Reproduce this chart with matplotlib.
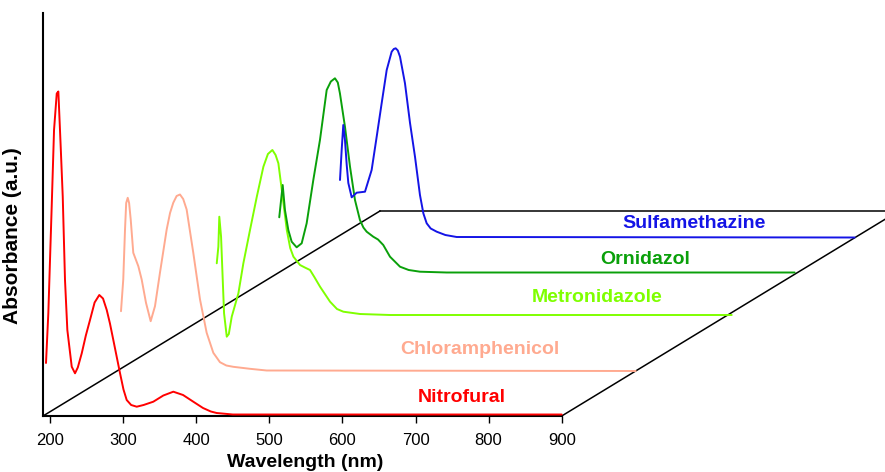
import matplotlib
import matplotlib.pyplot as plt

matplotlib.use("Agg")
plt.rcParams["font.family"] = ["Liberation Sans", "DejaVu Sans"]

# wavelength (nm) and absorbance (a.u.) above each trace's own baseline
NITRO_WL = [194.5, 197.7, 202.3, 205.5, 209.2, 211.4, 214.6, 217.4, 220.5, 223.7, 229.7, 234.2,
            238.0, 243.4, 249.0, 254.7, 261.0, 267.4, 272.5, 277.6, 282.0, 286.6, 295.8, 300.5,
            304.9, 311.0, 318.6, 328.0, 341.3, 355.0, 368.7, 382.0, 396.0, 409.3, 420.0, 428.0,
            450.0, 900.0]
NITRO_AB = [0.515, 1.015, 2.08, 2.845, 3.21, 3.23, 2.68, 2.18, 1.345, 0.845, 0.478, 0.412,
            0.47, 0.612, 0.79, 0.945, 1.12, 1.195, 1.16, 1.045, 0.91, 0.745, 0.412, 0.25,
            0.145, 0.095, 0.078, 0.095, 0.128, 0.19, 0.228, 0.195, 0.128, 0.065, 0.03, 0.015,
            0.0, 0.0]

CHLOR_WL = [195.9, 199.0, 201.4, 203.0, 205.1, 207.0, 209.2, 212.7, 219.6, 224.2, 230.1, 236.5,
            242.4, 249.2, 258.4, 263.0, 267.4, 272.0, 276.6, 281.0, 285.7, 294.8, 304.0, 313.1,
            322.2, 331.3, 340.0, 349.5, 372.3, 395.2, 900.0]
CHLOR_AB = [0.598, 0.915, 1.415, 1.68, 1.732, 1.68, 1.515, 1.182, 1.048, 0.915, 0.682, 0.498,
            0.648, 0.982, 1.415, 1.58, 1.682, 1.75, 1.765, 1.72, 1.615, 1.182, 0.715, 0.382,
            0.182, 0.088, 0.055, 0.042, 0.022, 0.005, 0.0]

METRO_WL = [195.5, 197.7, 199.0, 201.4, 203.7, 205.5, 209.2, 212.0, 216.0, 225.1, 231.9, 241.0,
            250.3, 259.3, 265.5, 271.6, 276.0, 279.8, 284.5, 291.3, 296.0, 300.4, 309.4, 316.0,
            323.1, 329.0, 336.8, 350.5, 360.0, 368.7, 391.5, 432.6, 900.0]
METRO_AB = [0.517, 0.683, 0.983, 0.783, 0.35, 0.017, -0.217, -0.19, -0.017, 0.217, 0.517, 0.85,
            1.183, 1.483, 1.61, 1.65, 1.6, 1.517, 1.25, 0.85, 0.67, 0.583, 0.5, 0.475,
            0.45, 0.38, 0.283, 0.133, 0.06, 0.033, 0.01, 0.0, 0.0]

ORNI_WL = [194.9, 199.6, 202.7, 207.3, 211.9, 218.7, 225.6, 232.4, 241.5, 250.6, 259.8, 265.5,
           271.1, 275.0, 277.9, 284.8, 291.7, 298.5, 305.3, 310.0, 314.5, 323.5, 330.0, 337.2,
           346.4, 360.1, 372.0, 387.4, 423.9, 900.0]
ORNI_AB = [0.552, 0.875, 0.625, 0.425, 0.308, 0.252, 0.292, 0.492, 0.925, 1.325, 1.825, 1.91,
           1.942, 1.9, 1.792, 1.458, 1.058, 0.725, 0.525, 0.45, 0.408, 0.358, 0.33, 0.275,
           0.158, 0.058, 0.025, 0.008, 0.0, 0.0]

SULFA_WL = [195.9, 198.2, 200.4, 202.7, 205.1, 207.3, 211.9, 218.7, 230.1, 239.2, 246.1, 252.9,
            259.8, 266.6, 269.5, 272.1, 275.0, 278.0, 284.8, 291.7, 298.5, 305.3, 310.0, 314.5,
            320.0, 328.2, 340.0, 355.5, 900.0]
SULFA_AB = [0.575, 0.875, 1.125, 0.975, 0.725, 0.545, 0.402, 0.448, 0.458, 0.675, 1.008, 1.342,
            1.675, 1.858, 1.885, 1.892, 1.87, 1.808, 1.542, 1.145, 0.808, 0.425, 0.24, 0.142,
            0.09, 0.058, 0.025, 0.005, 0.0]

NAMES = ["Nitrofural", "Chloramphenicol", "Metronidazole", "Ornidazol", "Sulfamethazine"]
COLORS = ["#ff0000", "#ffaa90", "#7fff00", "#0aa00a", "#1414e6"]
# waterfall shift of each trace: (nm, a.u.)
SHIFT_WL = [0.0, 101.2, 232.6, 318.7, 400.8]
SHIFT_AB = [0.015, 0.45, 1.01, 1.435, 1.785]
# where the name of each trace is written
LABEL_WL = [763.6, 788.2, 948.3, 1013.9, 1081.0]
LABEL_AB = [0.19, 0.66, 1.19, 1.57, 1.92]

X0, X1 = 190.4, 1342.3
DEPTH_WL, DEPTH_AB = 461.0, 2.05


def main() -> None:
    fig = plt.figure(figsize=(8.85, 4.72), dpi=100)
    ax = fig.add_axes([43 / 885, 56 / 472, 842 / 885, 403 / 472])
    ax.set_xlim(X0, X1)
    ax.set_ylim(0, 4.03)

    # floor of the waterfall
    kw = dict(color="black", lw=1.1, zorder=1)
    ax.plot([X0, X0 + DEPTH_WL], [0, DEPTH_AB], **kw)
    ax.plot([X0 + DEPTH_WL, X1 + 50], [DEPTH_AB, DEPTH_AB], **kw)
    ax.plot([900, 900 + DEPTH_WL], [0, DEPTH_AB], **kw)

    series = [
        (NITRO_WL, NITRO_AB),
        (CHLOR_WL, CHLOR_AB),
        (METRO_WL, METRO_AB),
        (ORNI_WL, ORNI_AB),
        (SULFA_WL, SULFA_AB),
    ]
    for i, (wl, ab) in enumerate(series):
        xs = [w + SHIFT_WL[i] for w in wl]
        ys = [a + SHIFT_AB[i] for a in ab]
        ax.plot(xs, ys, color=COLORS[i], lw=1.4, zorder=3 + i,
                solid_joinstyle="round", solid_capstyle="round")
        ax.text(LABEL_WL[i], LABEL_AB[i], NAMES[i], color=COLORS[i], fontsize=14,
                fontweight="bold", ha="center", va="center")

    for side in ("top", "right"):
        ax.spines[side].set_visible(False)
    ax.spines["left"].set_linewidth(1.5)
    ax.spines["bottom"].set_linewidth(1.5)
    ax.spines["bottom"].set_bounds(X0, 900)
    ax.set_xticks(range(200, 901, 100))
    ax.set_yticks([])
    ax.tick_params(axis="x", length=5, width=1, labelsize=12, pad=7)
    ax.set_xlabel("Wavelength (nm)", fontsize=14, fontweight="bold")
    ax.xaxis.set_label_coords((305 - 43) / 842, -38 / 403)
    ax.set_ylabel("Absorbance (a.u.)", fontsize=15, fontweight="bold")
    ax.yaxis.set_label_coords(-21 / 842, (416 - 236) / 403)

    fig.savefig("out.png", dpi=100)
    plt.close("all")


if __name__ == "__main__":
    main()
